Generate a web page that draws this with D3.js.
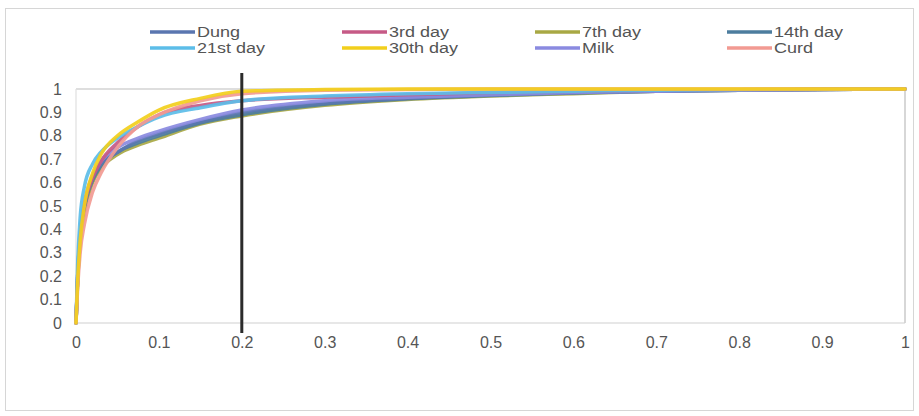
<!DOCTYPE html>
<html>
<head>
<meta charset="utf-8">
<script src="https://cdnjs.cloudflare.com/ajax/libs/d3/7.8.5/d3.min.js"></script>
<style>
  html, body { margin: 0; padding: 0; background: #fff; }
  svg { display: block; }
  text { font-family: "Liberation Sans", Arial, sans-serif; fill: #555; }
</style>
</head>
<body>
<svg id="chart" width="919" height="416"></svg>
<script>
// Shared x positions (fraction) for every cumulative curve
const xs = [0, 0.002, 0.005, 0.01, 0.02, 0.03, 0.05, 0.075, 0.1, 0.15, 0.2, 0.3, 0.4, 0.5, 0.6, 0.7, 0.8, 0.9, 1];

const seriesNames = ["Dung", "3rd day", "7th day", "14th day", "21st day", "30th day", "Milk", "Curd"];
const seriesColors = ["#5a76b0", "#c65a86", "#a8a844", "#4c7d9e", "#5cbde8", "#f2cf1c", "#8a8ae0", "#f29a92"];

const dung     = [0, 0.20, 0.38, 0.50, 0.62, 0.68, 0.73, 0.78, 0.81, 0.86, 0.900, 0.940, 0.960, 0.975, 0.985, 0.990, 0.995, 0.998, 1];
const day3     = [0, 0.20, 0.37, 0.50, 0.62, 0.69, 0.77, 0.84, 0.89, 0.93, 0.950, 0.965, 0.975, 0.985, 0.990, 0.995, 0.997, 0.999, 1];
const day7     = [0, 0.18, 0.34, 0.47, 0.60, 0.66, 0.72, 0.76, 0.79, 0.85, 0.885, 0.930, 0.955, 0.970, 0.980, 0.990, 0.995, 0.998, 1];
const day14    = [0, 0.19, 0.36, 0.49, 0.61, 0.67, 0.73, 0.77, 0.80, 0.855, 0.890, 0.935, 0.958, 0.972, 0.983, 0.990, 0.995, 0.998, 1];
const day21    = [0, 0.25, 0.45, 0.58, 0.68, 0.73, 0.79, 0.84, 0.88, 0.92, 0.950, 0.970, 0.980, 0.985, 0.990, 0.995, 0.997, 0.999, 1];
const day30    = [0, 0.18, 0.35, 0.50, 0.64, 0.72, 0.80, 0.86, 0.91, 0.96, 0.990, 0.998, 1, 1, 1, 1, 1, 1, 1];
const milk     = [0, 0.20, 0.38, 0.51, 0.63, 0.69, 0.75, 0.79, 0.82, 0.87, 0.910, 0.950, 0.965, 0.975, 0.985, 0.990, 0.995, 0.998, 1];
const curd     = [0, 0.15, 0.30, 0.42, 0.56, 0.64, 0.75, 0.84, 0.89, 0.95, 0.980, 0.995, 0.998, 1, 1, 1, 1, 1, 1];

const seriesValues = [dung, day3, day7, day14, day21, day30, milk, curd];

const xTicks = [0, 0.1, 0.2, 0.3, 0.4, 0.5, 0.6, 0.7, 0.8, 0.9, 1];
const yTicks = [0, 0.1, 0.2, 0.3, 0.4, 0.5, 0.6, 0.7, 0.8, 0.9, 1];
const markerX = 0.2;

const svg = d3.select("#chart");

// outer chart frame
svg.append("rect")
  .attr("x", 5.5).attr("y", 8.5).attr("width", 908).attr("height", 402)
  .attr("fill", "none").attr("stroke", "#d6d6d6").attr("stroke-width", 1);

const plot = { left: 76, right: 905, top: 89, bottom: 323 };
const x = d3.scaleLinear().domain([0, 1]).range([plot.left, plot.right]);
const y = d3.scaleLinear().domain([0, 1]).range([plot.bottom, plot.top]);

// plot frame: top gridline, right edge, left edge, baseline
const frame = svg.append("g").attr("stroke", "#bdbdbd").attr("stroke-width", 1.2).attr("fill", "none");
frame.append("line").attr("x1", x(0)).attr("x2", x(1)).attr("y1", y(1)).attr("y2", y(1));
frame.append("line").attr("x1", x(1)).attr("x2", x(1)).attr("y1", y(1)).attr("y2", y(0));
frame.append("line").attr("x1", x(0)).attr("x2", x(0)).attr("y1", y(1)).attr("y2", y(0)).attr("stroke", "#e0e0e0");
frame.append("line").attr("x1", x(0)).attr("x2", x(1)).attr("y1", y(0)).attr("y2", y(0)).attr("stroke", "#d0d0d0");

// axes (labels only)
const yAxis = d3.axisLeft(y).tickValues(yTicks).tickSize(0).tickPadding(0).tickFormat(d3.format("~g"));
const gy = svg.append("g").attr("transform", `translate(${plot.left - 14},0)`).call(yAxis);
gy.select(".domain").remove();
gy.selectAll("text").attr("font-size", 16).style("font-family", "Liberation Sans, Arial, sans-serif").attr("fill", "#555");

const xAxis = d3.axisBottom(x).tickValues(xTicks).tickSize(0).tickPadding(0).tickFormat(d3.format("~g"));
const gx = svg.append("g").attr("transform", `translate(0,${plot.bottom + 14})`).call(xAxis);
gx.select(".domain").remove();
gx.selectAll("text").attr("font-size", 16).style("font-family", "Liberation Sans, Arial, sans-serif").attr("fill", "#555");

// curves
const line = d3.line()
  .x((d, i) => x(xs[i]))
  .y(d => y(d))
  .curve(d3.curveMonotoneX);

const order = [2, 3, 0, 6, 1, 4, 7, 5];
svg.append("g").selectAll("path")
  .data(order)
  .join("path")
  .attr("d", k => line(seriesValues[k]))
  .attr("fill", "none")
  .attr("stroke", k => seriesColors[k])
  .attr("stroke-width", 3.5)
  .attr("stroke-linejoin", "round")
  .attr("stroke-linecap", "round")
  .attr("opacity", 0.92);

// marker line at x = 0.2
svg.append("line")
  .attr("x1", x(markerX)).attr("x2", x(markerX))
  .attr("y1", 73).attr("y2", 333)
  .attr("stroke", "#2b2b2b").attr("stroke-width", 3);

// legend: 4 columns x 2 rows, text slightly widened
const legendCols = [150, 342, 535, 727];
const legendRows = [32, 48];
const legend = svg.append("g");
seriesNames.forEach((name, i) => {
  const cx = legendCols[i % 4];
  const cy = legendRows[Math.floor(i / 4)];
  legend.append("line")
    .attr("x1", cx).attr("x2", cx + 45).attr("y1", cy).attr("y2", cy)
    .attr("stroke", seriesColors[i]).attr("stroke-width", 3.5);
  legend.append("text")
    .attr("transform", `translate(${cx + 47},${cy}) scale(1.2,1)`)
    .attr("dy", "0.35em")
    .attr("font-size", 15).attr("fill", "#505050")
    .text(name);
});
</script>
</body>
</html>
